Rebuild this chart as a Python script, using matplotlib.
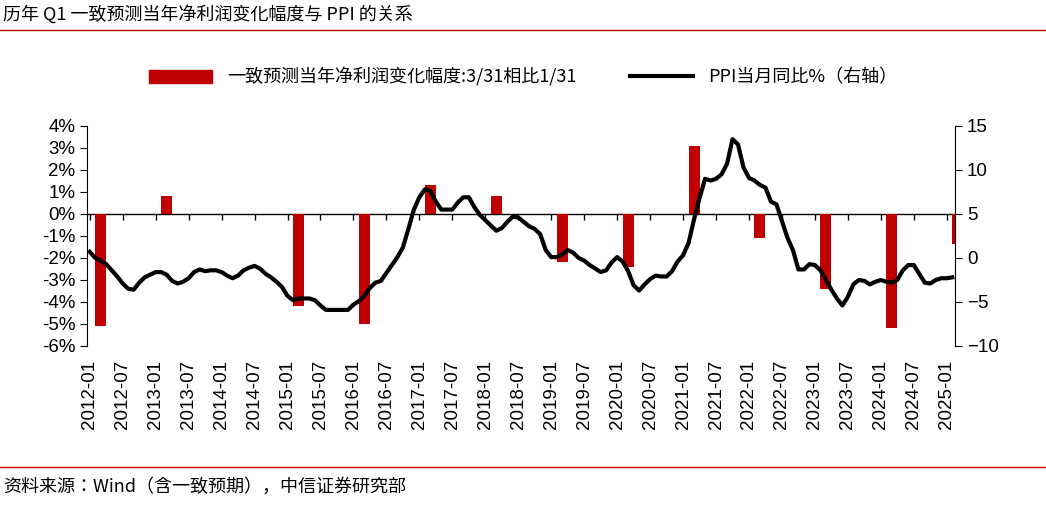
import numpy as np
import matplotlib.pyplot as plt
from matplotlib import font_manager
from matplotlib.patches import Patch
from matplotlib.lines import Line2D

plt.rcParams['font.family'] = 'Liberation Sans'
names = sorted({f.name for f in font_manager.fontManager.ttflist if 'CJK' in f.name})
cjk = names[0] if names else 'DejaVu Sans'
for pref in ['Noto Sans CJK SC', 'Noto Sans CJK JP']:
    if pref in names:
        cjk = pref
        break

# bar data: consensus change, measured at March of each year
bar_years = list(range(2012, 2026))
bar_vals = [-5.1, 0.8, 0.0, -4.2, -5.0, 1.3, 0.8, -2.2, -2.4, 3.1, -1.1, -3.4, -5.2, -1.35]

# PPI yoy monthly from 2012-01
ppi = [0.7, 0.0, -0.3, -0.7, -1.4, -2.1, -2.9, -3.5, -3.6, -2.8, -2.2, -1.9,
       -1.6, -1.6, -1.9, -2.6, -2.9, -2.7, -2.3, -1.6, -1.3, -1.5, -1.4, -1.4,
       -1.6, -2.0, -2.3, -2.0, -1.4, -1.1, -0.9, -1.2, -1.8, -2.2, -2.7, -3.3,
       -4.3, -4.8, -4.6, -4.6, -4.6, -4.8, -5.4, -5.9, -5.9, -5.9, -5.9, -5.9,
       -5.3, -4.9, -4.3, -3.4, -2.8, -2.6, -1.7, -0.8, 0.1, 1.2, 3.3, 5.5,
       6.9, 7.8, 7.6, 6.4, 5.5, 5.5, 5.5, 6.3, 6.9, 6.9, 5.8, 4.9,
       4.3, 3.7, 3.1, 3.4, 4.1, 4.7, 4.6, 4.1, 3.6, 3.3, 2.7, 0.9,
       0.1, 0.1, 0.4, 0.9, 0.6, 0.0, -0.3, -0.8, -1.2, -1.6, -1.4, -0.5,
       0.1, -0.4, -1.5, -3.1, -3.7, -3.0, -2.4, -2.0, -2.1, -2.1, -1.5, -0.4,
       0.3, 1.7, 4.4, 6.8, 9.0, 8.8, 9.0, 9.5, 10.7, 13.5, 12.9, 10.3,
       9.1, 8.8, 8.3, 8.0, 6.4, 6.1, 4.2, 2.3, 0.9, -1.3, -1.3, -0.7,
       -0.8, -1.4, -2.5, -3.6, -4.6, -5.4, -4.4, -3.0, -2.5, -2.6, -3.0, -2.7,
       -2.5, -2.7, -2.8, -2.5, -1.4, -0.8, -0.8, -1.8, -2.8, -2.9, -2.5, -2.3,
       -2.3, -2.2]

tick_labels = [f'{y}-{m:02d}' for y in range(2012, 2026) for m in (1, 7)][:-1]

red = '#C00000'
fig = plt.figure(figsize=(10.46, 5.05), dpi=100)
ax = fig.add_axes([87/1046, 1-346/505, (955-87)/1046, 220/505])
ax2 = ax.twinx()

bx = [(y - 2012) * 12 + 2 for y in bar_years]
ax.bar(bx, bar_vals, width=2.0, color=red, zorder=2)
ax.axhline(0, color='black', lw=1, zorder=1)
ax.set_ylim(-6, 4)
ax.set_yticks(np.arange(-6, 5, 1))
ax.set_yticklabels([f'{v}%' for v in range(-6, 5)], fontsize=13.5)
ax.set_xlim(-0.5, 157.5)
tick_pos = np.arange(0, 157, 6)
ax.set_xticks(tick_pos)
ax.set_xticklabels(tick_labels, rotation=90, fontsize=13.5)
ax.tick_params(axis='x', length=0, pad=10)
ax.vlines(tick_pos, -0.25, 0, color='black', lw=1)
for s in ['top', 'bottom', 'right']:
    ax.spines[s].set_visible(False)
ax.tick_params(axis='y', direction='out', length=5)

ax2.plot(np.arange(len(ppi)), ppi, color='black', lw=3, zorder=3)
ax2.set_ylim(-10, 15)
ax2.set_yticks(np.arange(-10, 16, 5))
ax2.tick_params(axis='y', labelsize=13.5, length=5)
for s in ['top', 'bottom', 'left']:
    ax2.spines[s].set_visible(False)

handles = [Patch(color=red), Line2D([], [], color='black', lw=3)]
fig.legend(handles, ['一致预测当年净利润变化幅度:3/31相比1/31', 'PPI当月同比%（右轴）'],
           loc='center', bbox_to_anchor=(0.5, 1-77/505), ncol=2, frameon=False,
           prop={'family': cjk, 'size': 13}, handlelength=3.5, columnspacing=3)

fig.text(0.003, 1-14/505, '历年 Q1 一致预测当年净利润变化幅度与 PPI 的关系', fontsize=13,
         va='center', family=cjk)
fig.add_artist(Line2D([0, 1], [1-30/505, 1-30/505], color=red, lw=1))
fig.add_artist(Line2D([0, 1], [1-467/505, 1-467/505], color=red, lw=1))
fig.text(0.003, 1-487/505, '资料来源：Wind（含一致预期），中信证券研究部', fontsize=13,
         va='center', family=cjk)

fig.savefig('out.png', dpi=100)
